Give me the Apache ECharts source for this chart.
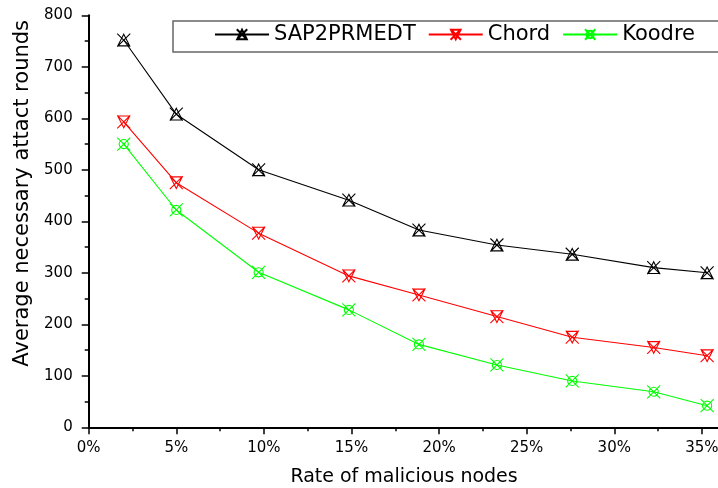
<!DOCTYPE html>
<html>
<head>
<meta charset="utf-8">
<script src="https://cdn.jsdelivr.net/npm/echarts@6/dist/echarts.min.js"></script>
<style>html,body{margin:0;padding:0;background:#fff}#c{width:718px;height:488px}</style>
</head>
<body>
<div id="c"></div>
<script>
const rates = [2.0, 5.0, 9.7, 14.85, 18.85, 23.3, 27.6, 32.25, 35.3];
const sap2prmedt = [752, 608, 500, 441, 383, 354, 336, 310, 300];
const chord = [593, 475, 377, 294, 257, 215, 175, 155, 139];
const koodre = [550, 422, 301, 228, 161, 121, 90, 69, 42];
const seriesNames = ['SAP2PRMEDT', 'Chord', 'Koodre'];
const xTicks = [0, 5, 10, 15, 20, 25, 30, 35];

const FONT = "'DejaVu Sans', 'Liberation Sans', Arial, sans-serif";
const symUp = 'path://M0,0L10,10M10,0L0,10M5,0.5L9.6,9.5L0.4,9.5Z';
const symDown = 'path://M0,0L10,10M10,0L0,10M0.4,0.5L9.6,0.5L5,9.5Z';
const symCircle = 'path://M0,0L10,10M10,0L0,10M5,1.5A3.5,3.5 0 1 1 4.99,1.5Z';

function pairs(vals) { return rates.map((r, i) => [r, vals[i]]); }
function mk(name, vals, color, sym) {
  return {
    name, type: 'line', data: pairs(vals), symbol: sym, symbolSize: 13,
    showAllSymbol: true,
    lineStyle: { color, width: 1.1 },
    itemStyle: { color: 'rgba(0,0,0,0)', borderColor: color, borderWidth: 1.1 },
    emphasis: { disabled: true }, animation: false
  };
}

const chart = echarts.init(document.getElementById('c'), null, { renderer: 'canvas' });
chart.setOption({
  animation: false,
  textStyle: { fontFamily: FONT },
  grid: { left: 88.7, right: -1.4, top: 15.3, bottom: 60.7, containLabel: false, outerBoundsMode: 'none' },
  graphic: [{
    type: 'rect', z: 0,
    shape: { x: 173, y: 21, width: 600, height: 31 },
    style: { fill: '#fff', stroke: '#666', lineWidth: 1.5 }
  }],
  legend: {
    data: seriesNames, left: 214, top: 24, padding: 0,
    itemWidth: 54, itemHeight: 13, itemGap: 12,
    textStyle: { fontFamily: FONT, fontSize: 21, color: '#000' },
    z: 10
  },
  xAxis: {
    type: 'value', min: 0, max: 36, interval: 5,
    name: 'Rate of malicious nodes', nameLocation: 'middle', nameGap: 40,
    nameTextStyle: { fontFamily: FONT, fontSize: 19, color: '#000' },
    axisLine: { show: true, lineStyle: { color: '#000', width: 2 } },
    axisTick: { show: true, inside: false, length: 7, lineStyle: { color: '#000', width: 1.5 } },
    minorTick: { show: true, splitNumber: 2, length: 4, lineStyle: { color: '#000', width: 1.5 } },
    splitLine: { show: false }, minorSplitLine: { show: false },
    axisLabel: {
      fontFamily: FONT, fontSize: 15, color: '#000', margin: 13,
      formatter: v => (xTicks.indexOf(v) >= 0 ? v + '%' : '')
    }
  },
  yAxis: {
    type: 'value', min: 0, max: 800, interval: 100,
    name: 'Average necessary attact rounds', nameLocation: 'middle', nameGap: 55,
    nameTextStyle: { fontFamily: FONT, fontSize: 21, color: '#000', padding: [0, 0, 0, 56] },
    axisLine: { show: true, lineStyle: { color: '#000', width: 2 } },
    axisTick: { show: true, inside: false, length: 7, lineStyle: { color: '#000', width: 1.5 } },
    minorTick: { show: true, splitNumber: 2, length: 4, lineStyle: { color: '#000', width: 1.5 } },
    splitLine: { show: false }, minorSplitLine: { show: false },
    axisLabel: { fontFamily: FONT, fontSize: 15, color: '#000', margin: 16 }
  },
  series: [
    mk(seriesNames[0], sap2prmedt, '#000000', symUp),
    mk(seriesNames[1], chord, '#ff0000', symDown),
    mk(seriesNames[2], koodre, '#00ff00', symCircle)
  ]
});
</script>
</body>
</html>
